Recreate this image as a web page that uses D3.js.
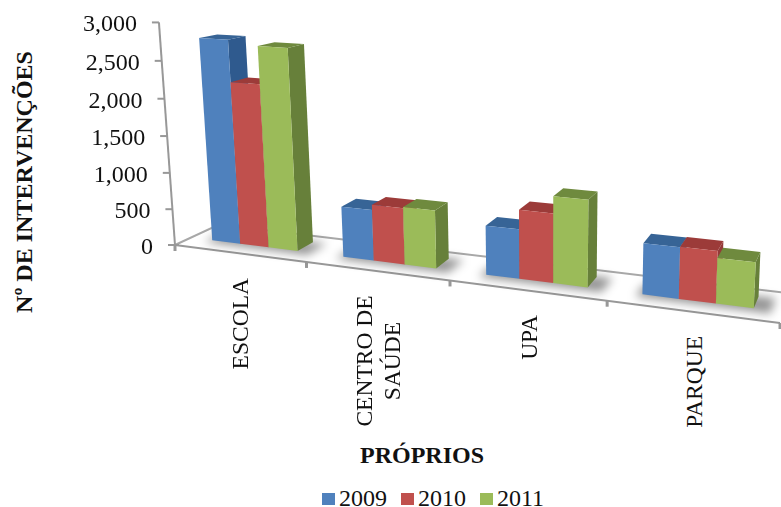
<!DOCTYPE html>
<html><head><meta charset="utf-8">
<script src="https://cdn.jsdelivr.net/npm/d3@7"></script>
<style>html,body{margin:0;background:#fff}svg{display:block}text{font-family:"Liberation Serif",serif;fill:#111}</style>
</head><body><svg id="c" width="781" height="507"></svg>
<script>
const categories = ["ESCOLA", "CENTRO DE|SAÚDE", "UPA", "PARQUE"];
const seriesNames = ["2009", "2010", "2011"];
const v2009 = [2775, 680, 640, 640];
const v2010 = [2215, 750, 890, 645];
const v2011 = [2715, 765, 1105, 560];
const yTicks = [0, 500, 1000, 1500, 2000, 2500, 3000];
const frontColors = ["#4f81bd", "#c0504d", "#9bbb59"];
const sideColors = ["#2f5a8e", "#943a38", "#67803a"];
const topColors = ["#376496", "#9c3b39", "#6f8a3e"];
const allValues = [v2009, v2010, v2011];

const svg = d3.select("#c");
const defs = svg.append("defs");
defs.append("filter").attr("id", "soft").attr("x", "-30%").attr("y", "-60%").attr("width", "160%").attr("height", "220%")
  .append("feGaussianBlur").attr("stdDeviation", 5);

// Category, series and value scales in model space; the depth axis runs 0..1 from front to back.
const xCat = d3.scaleBand().domain(categories).range([0, 4]).paddingInner(0.34).paddingOuter(0.17);
const xSer = d3.scaleBand().domain(seriesNames).range([0, xCat.bandwidth()]);
const yVal = d3.scaleLinear().domain([0, 3000]).range([0, 3]);

// Perspective projection of a model point (u along categories, d depth, h height).
function project(u, d, h) {
  const w = 1 - 0.04167 * u + 0.0626 * d - 0.0138 * h;
  return [
    (175 + 118.75 * u + 57.7 * d - 7.55 * h) / w,
    (245 + 6.04 * u - 6.39 * d - 74.5 * h) / w
  ];
}
const pathOf = pts => d3.line()(pts) + "Z";
const grey = "#989898";

// Floor edges
const floor = svg.append("g").attr("fill", "none").attr("stroke", grey).attr("stroke-width", 2);
const dBar = [0.35, 0.75];
floor.append("path").attr("d", d3.line()([project(0, 0, 0), project(0, 1, 0), project(4, 1, 0)])).attr("stroke", "#a8a8a8");
floor.append("path").attr("d", d3.line()([project(0, 0, 0), project(4, 0, 0)]));
d3.range(5).forEach(u => {
  const p = project(u, 0, 0);
  floor.append("line").attr("x1", p[0]).attr("x2", p[0]).attr("y1", p[1]).attr("y2", p[1] + 6).attr("stroke-width", 3);
});

// Soft shadows cast on the floor
const shadows = svg.append("g").attr("filter", "url(#soft)");
categories.forEach(c => {
  const u0 = xCat(c) - 0.03, u1 = xCat(c) + xCat.bandwidth() + 0.1;
  shadows.append("path").attr("fill", "#000").attr("opacity", 0.42)
    .attr("d", pathOf([project(u0, dBar[0] - 0.1, 0), project(u1, dBar[0] - 0.1, 0), project(u1, dBar[1] + 0.02, 0), project(u0, dBar[1] - 0.05, 0)]));
});

// Value axis
const axis = svg.append("g");
axis.append("path").attr("fill", "none").attr("stroke", grey).attr("stroke-width", 2)
  .attr("d", d3.line()([project(0, 0, 0), project(0, 0, yVal(3000))]));
yTicks.forEach(t => {
  const p = project(0, 0, yVal(t));
  axis.append("line").attr("x1", p[0] - 7).attr("x2", t === 0 ? p[0] + 4 : p[0]).attr("y1", p[1]).attr("y2", p[1])
    .attr("stroke", grey).attr("stroke-width", 2);
  axis.append("text").attr("x", p[0] - 22).attr("y", p[1] + 9).attr("text-anchor", "end")
    .attr("font-size", 24).text(d3.format(",")(t));
});

// Bars: side, top and front faces of each prism
categories.forEach((c, ci) => {
  seriesNames.forEach((s, si) => {
    const u0 = xCat(c) + xSer(s), u1 = u0 + xSer.bandwidth(), h = yVal(allValues[si][ci]);
    const [d0, d1] = dBar;
    const g = svg.append("g");
    g.append("path").attr("fill", sideColors[si])
      .attr("d", pathOf([project(u1, d0, 0), project(u1, d1, 0), project(u1, d1, h), project(u1, d0, h)]));
    g.append("path").attr("fill", topColors[si])
      .attr("d", pathOf([project(u0, d0, h), project(u1, d0, h), project(u1, d1, h), project(u0, d1, h)]));
    g.append("path").attr("fill", frontColors[si])
      .attr("d", pathOf([project(u0, d0, 0), project(u1, d0, 0), project(u1, d0, h), project(u0, d0, h)]));
  });
});

// Category labels, rotated and hung below the front edge
const catLabelPos = [[240, 278], [378, 361], [529, 315], [694, 336]];
categories.forEach((c, i) => {
  const lines = c.split("|");
  const [x, y] = catLabelPos[i];
  const t = svg.append("text").attr("transform", `translate(${x},${y}) rotate(-90)`)
    .attr("text-anchor", lines.length > 1 ? "middle" : "end").attr("font-size", 23.5);
  lines.forEach((l, k) => t.append("tspan").attr("x", 0)
    .attr("y", (k - (lines.length - 1) / 2) * 28 + 8).text(l));
});

// Axis titles
svg.append("text").attr("transform", "translate(32,182) rotate(-90)").attr("text-anchor", "middle")
  .attr("font-size", 24).attr("font-weight", "bold").text("Nº DE INTERVENÇÕES");
svg.append("text").attr("x", 422).attr("y", 463).attr("text-anchor", "middle")
  .attr("font-size", 24).attr("font-weight", "bold").text("PRÓPRIOS");

// Legend
const legendX = d3.scalePoint().domain(seriesNames).range([322, 480]);
seriesNames.forEach((s, i) => {
  const x = legendX(s);
  svg.append("rect").attr("x", x).attr("y", 493).attr("width", 13).attr("height", 12).attr("fill", frontColors[i]);
  svg.append("text").attr("x", x + 17).attr("y", 506).attr("font-size", 24).text(s);
});
</script></body></html>
